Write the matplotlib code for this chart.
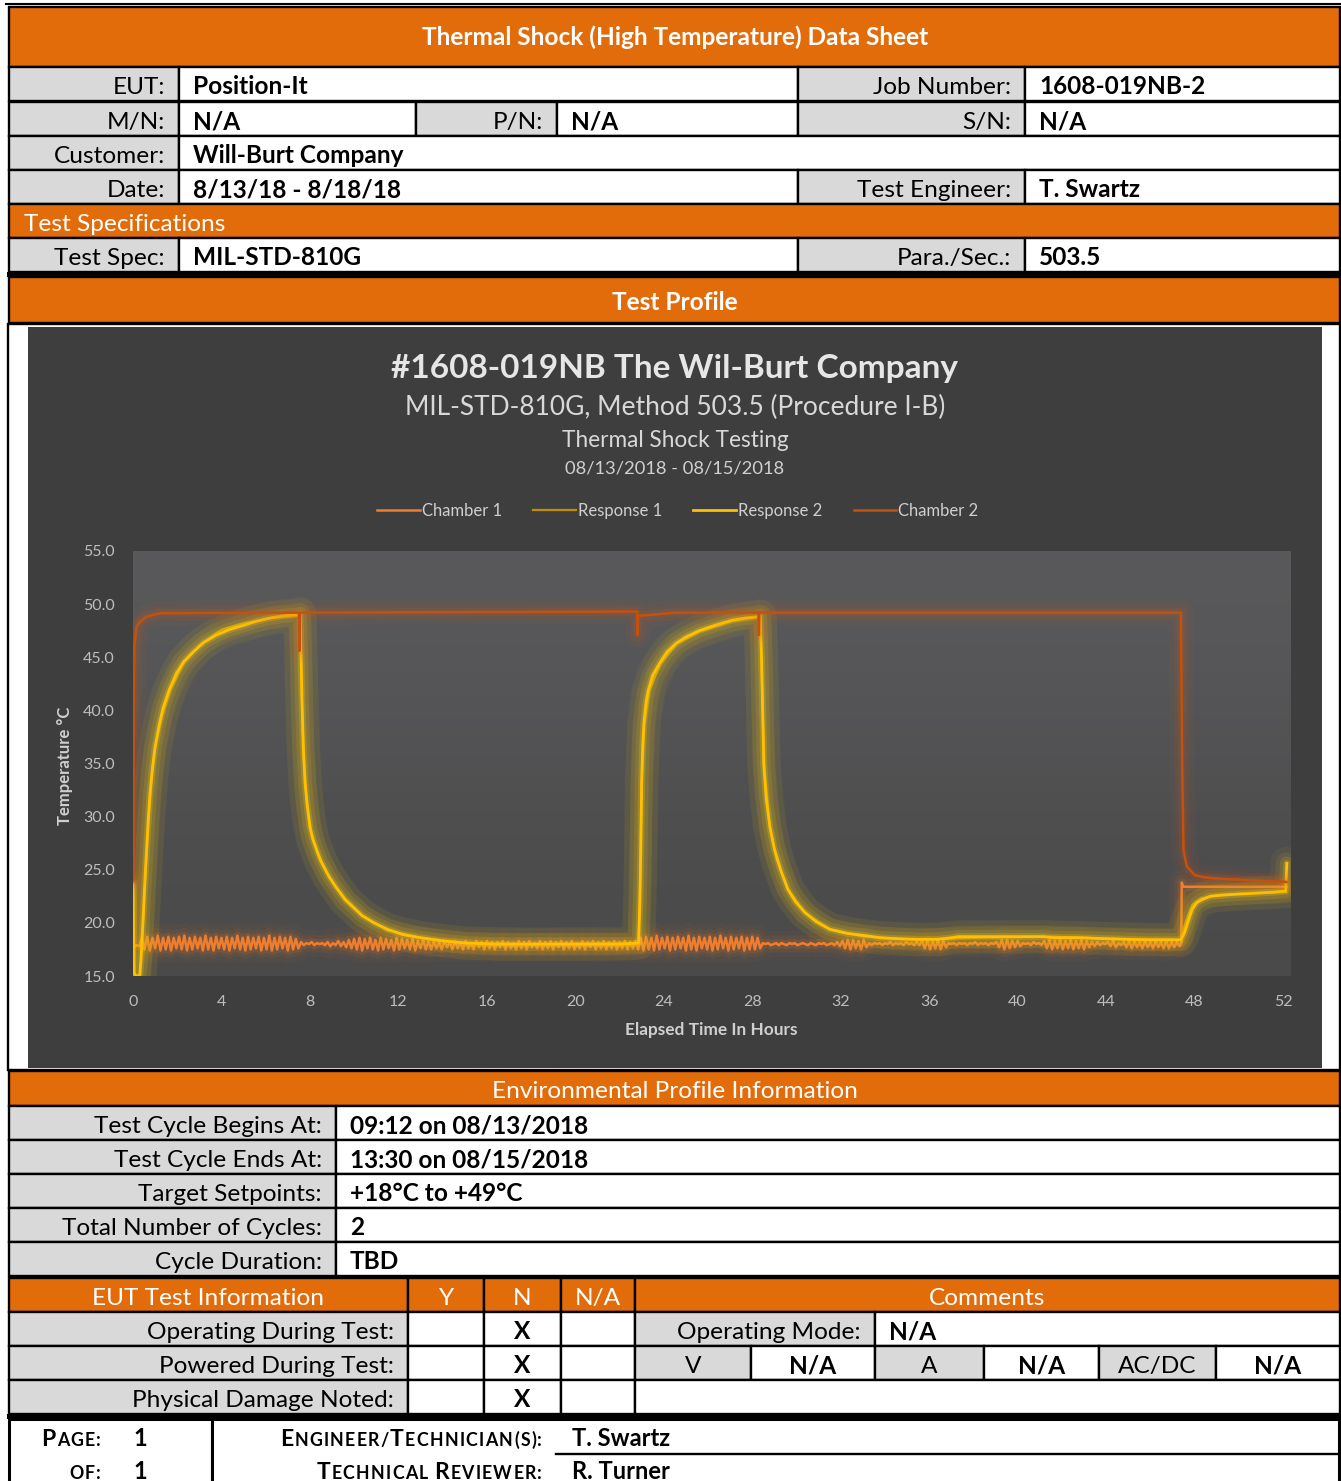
import numpy as np
import matplotlib
matplotlib.use("Agg")
import matplotlib.pyplot as plt
from matplotlib.patches import Rectangle
from matplotlib.colors import LinearSegmentedColormap

# ======================= DATA =======================
series_names = ["Chamber 1", "Response 1", "Response 2", "Chamber 2"]
x_ticks = [0, 4, 8, 12, 16, 20, 24, 28, 32, 36, 40, 44, 48, 52]
x_tick_labels = [str(v) for v in x_ticks]
y_ticks = [15.0, 20.0, 25.0, 30.0, 35.0, 40.0, 45.0, 50.0, 55.0]
y_tick_labels = ["%.1f" % v for v in y_ticks]

chart_title = "#1608-019NB The Wil-Burt Company"
chart_sub1 = "MIL-STD-810G, Method 503.5 (Procedure I-B)"
chart_sub2 = "Thermal Shock Testing"
chart_sub3 = "08/13/2018 - 08/15/2018"
x_label = "Elapsed Time In Hours"
y_label = "Temperature °C"

# Chamber 2 (hot chamber)
ch2_time = [0.00, 0.015, 0.03, 0.06, 0.15, 0.30, 0.60, 1.20, 7.50, 7.52, 7.54,
            22.80, 22.82, 22.84, 23.50, 24.50, 28.28, 28.30, 28.32, 47.38, 47.44,
            47.50, 47.65, 48.00, 48.40, 48.90, 50.50, 52.15]
ch2_temp = [24.0, 24.0, 40.0, 46.0, 47.8, 48.3, 48.8, 49.15, 49.2, 45.6, 49.2,
            49.3, 47.1, 48.9, 49.0, 49.2, 49.2, 47.1, 49.2, 49.2, 35.0,
            26.8, 25.3, 24.5, 24.3, 24.2, 24.0, 23.85]

# Chamber 1 (cold chamber) - start, logged cold-dwell samples, end
ch1_start_time = [0.00, 0.03, 0.15, 0.30]
ch1_start_temp = [24.0, 17.7, 17.9, 17.8]
ch1_log_first_hour = 0.40
ch1_log_interval_h = 0.12
ch1_log_temp = [
    18.5, 17.5, 18.7, 17.4, 18.6, 17.6, 18.8, 17.4, 18.6, 17.5,
    18.7, 17.4, 18.6, 17.6, 18.7, 17.5, 18.8, 17.4, 18.6, 17.5,
    18.7, 17.6, 18.6, 17.4, 18.8, 17.5, 18.6, 17.4, 18.7, 17.6,
    18.6, 17.5, 18.7, 17.4, 18.6, 17.6, 18.8, 17.5, 18.6, 17.4,
    18.7, 17.5, 18.6, 17.6, 18.7, 17.4, 18.6, 17.5, 18.8, 17.4,
    18.6, 17.5, 18.7, 17.6, 18.6, 17.4, 18.7, 17.5, 18.5, 17.6,
    18.2, 17.9, 18.1, 18.0, 18.2, 17.9, 18.1, 18.0, 18.1, 17.9,
    18.2, 17.8, 18.1, 17.9, 18.3, 17.8, 18.2, 17.7, 18.4, 17.6,
    18.5, 17.5, 18.6, 17.4, 18.5, 17.6, 18.6, 17.5, 18.4, 17.4,
    18.6, 17.5, 18.5, 17.6, 18.4, 17.4, 18.6, 17.5, 18.5, 17.6,
    18.4, 17.5, 18.5, 17.4, 18.3, 17.6, 18.4, 17.5, 18.3, 17.5,
    18.3, 17.6, 18.2, 17.5, 18.3, 17.7, 18.2, 17.5, 18.3, 17.6,
    18.2, 17.5, 18.3, 17.6, 18.1, 17.5, 18.3, 17.7, 18.2, 17.5,
    18.3, 17.6, 18.2, 17.5, 18.2, 17.7, 18.3, 17.5, 18.2, 17.6,
    18.1, 17.5, 18.3, 17.6, 18.2, 17.5, 18.3, 17.7, 18.1, 17.6,
    18.3, 17.5, 18.2, 17.6, 18.3, 17.5, 18.2, 17.7, 18.3, 17.5,
    18.2, 17.6, 18.3, 17.5, 18.1, 17.6, 18.3, 17.5, 18.2, 17.7,
    18.3, 17.5, 18.2, 17.6, 18.3, 17.5, 18.2, 17.6, 18.3, 17.5,
    18.2, 17.6, 18.3, 17.5, 18.2, 17.6, 18.3, 17.5, 18.6, 17.4,
    18.7, 17.5, 18.6, 17.4, 18.8, 17.5, 18.6, 17.6, 18.7, 17.4,
    18.6, 17.5, 18.7, 17.6, 18.6, 17.4, 18.8, 17.5, 18.6, 17.4,
    18.7, 17.6, 18.6, 17.5, 18.7, 17.4, 18.6, 17.5, 18.8, 17.6,
    18.6, 17.4, 18.7, 17.5, 18.6, 17.6, 18.7, 17.4, 18.6, 17.5,
    18.7, 17.5, 18.6, 17.6, 18.1, 18.0, 18.1, 17.9, 18.0, 18.1,
    17.9, 18.1, 18.0, 17.9, 18.1, 18.0, 18.1, 17.9, 18.0, 18.1,
    18.0, 17.9, 18.1, 18.0, 17.9, 18.1, 18.0, 18.1, 17.9, 18.0,
    18.1, 17.9, 18.2, 17.8, 18.3, 17.6, 18.4, 17.5, 18.4, 17.6,
    18.3, 17.5, 18.4, 17.7, 18.1, 17.9, 18.1, 18.0, 18.1, 17.9,
    18.1, 18.0, 18.2, 17.9, 18.1, 18.0, 18.1, 17.9, 18.2, 18.0,
    18.1, 17.9, 18.2, 17.9, 18.3, 17.6, 18.4, 17.5, 18.3, 17.6,
    18.4, 17.5, 18.3, 17.7, 18.1, 18.0, 18.1, 17.9, 18.1, 18.0,
    18.1, 17.9, 18.1, 18.0, 18.2, 17.9, 18.1, 18.0, 18.1, 17.9,
    18.1, 18.0, 18.2, 17.7, 18.4, 17.5, 18.4, 17.6, 18.3, 17.7,
    18.3, 17.8, 18.1, 18.0, 18.1, 17.9, 18.2, 18.0, 18.1, 17.9,
    18.3, 17.6, 18.4, 17.5, 18.3, 17.6, 18.4, 17.5, 18.3, 17.6,
    18.4, 17.5, 18.3, 17.6, 18.4, 17.5, 18.3, 17.7, 18.2, 17.8,
    18.2, 17.9, 18.1, 18.0, 18.2, 17.8, 18.3, 17.7, 18.1, 17.9,
    18.2, 17.7, 18.3, 17.6, 18.3, 17.7, 18.2, 17.6, 18.3, 17.7,
    18.2, 17.6, 18.3, 17.7, 18.2, 17.6, 18.3, 17.6, 18.2, 17.7,
    18.2, 17.8,
]
ch1_end_time = [47.40, 47.42, 47.50, 52.15]
ch1_end_temp = [18.1, 23.8, 23.4, 23.4]

# Response 2 (EUT thermocouple)
resp2_time = [0.00, 0.05, 0.10, 0.30, 0.36, 0.42, 0.47, 0.55, 0.62, 0.70, 0.77, 0.88,
              1.00, 1.18, 1.37, 1.65, 1.97, 2.30, 2.72, 3.20, 3.78, 4.35, 4.98, 5.60,
              6.20, 6.80, 7.39, 7.55,
              7.60, 7.64, 7.70, 7.78, 7.88, 8.00, 8.15, 8.30, 8.50, 8.85, 9.20, 9.60,
              10.00, 10.35, 10.90, 11.50, 12.20, 13.00, 14.00, 15.06, 16.50, 17.90,
              20.00, 22.00, 22.86,
              22.92, 22.96, 23.00, 23.05, 23.10, 23.20, 23.30, 23.50, 23.80, 24.15,
              24.55, 25.00, 25.60, 26.30, 27.10, 27.70, 28.20, 28.36,
              28.42, 28.46, 28.52, 28.63, 28.80, 29.00, 29.30, 29.60, 29.95, 30.37,
              30.90, 31.50, 32.30, 33.10, 33.80, 34.60, 35.50, 36.40, 37.00, 37.30,
              39.00, 41.20, 41.60, 42.80, 44.10, 45.80, 47.38,
              47.55, 47.75, 47.90, 48.10, 48.35, 48.70, 49.20, 49.90, 50.80, 51.60,
              52.12, 52.15, 52.17]
resp2_temp = [23.5, 15.3, 15.0, 15.0, 16.5, 19.0, 21.0, 24.5, 27.2, 30.0, 32.2, 34.6,
              36.6, 38.6, 40.3, 42.0, 43.5, 44.6, 45.5, 46.4, 47.1, 47.6, 48.0, 48.4,
              48.7, 48.9, 49.0, 49.1,
              45.0, 41.0, 36.5, 33.2, 31.0, 29.0, 27.8, 26.9, 25.8, 24.4, 23.3, 22.2,
              21.4, 20.7, 20.0, 19.4, 18.9, 18.6, 18.3, 18.1, 18.0, 18.0,
              18.0, 18.0, 18.1,
              22.0, 27.0, 33.4, 36.8, 38.8, 40.8, 41.9, 43.3, 44.4, 45.5,
              46.3, 46.9, 47.5, 48.0, 48.5, 48.7, 48.8, 48.9,
              45.0, 41.1, 35.0, 31.7, 29.0, 26.95, 24.9, 23.2, 22.0, 21.0,
              20.1, 19.4, 19.0, 18.8, 18.6, 18.5, 18.45, 18.45, 18.6, 18.7,
              18.7, 18.7, 18.6, 18.6, 18.5, 18.4, 18.4,
              19.1, 20.4, 21.3, 21.9, 22.2, 22.5, 22.6, 22.7, 22.8, 22.9,
              23.0, 24.5, 25.6]

# Response 1 (second EUT thermocouple, nearly coincident)
resp1_time = [0.00, 0.06, 0.12, 0.32, 0.40, 0.48, 0.58, 0.70, 0.85, 1.00, 1.30,
              1.70, 2.30, 3.00, 4.00, 5.00, 6.30, 7.40, 7.55,
              7.62, 7.72, 7.85, 8.10, 8.40, 8.90, 9.60, 10.40, 11.50, 13.00, 15.00,
              18.00, 22.86, 22.93, 23.00, 23.12, 23.35, 23.85, 24.60, 25.60, 27.10,
              28.36, 28.45, 28.55, 28.80, 29.10, 29.60, 30.40, 31.50, 33.10, 35.50,
              38.00, 41.50, 44.50, 47.38, 47.60, 47.90, 48.30, 49.00, 50.50, 52.15]
resp1_temp = [23.4, 15.4, 15.1, 15.1, 17.8, 20.8, 25.0, 29.6, 33.6, 36.4, 39.4,
              42.0, 44.5, 46.1, 47.6, 48.2, 48.7, 48.9, 49.0,
              42.0, 35.5, 31.6, 28.0, 26.2, 24.2, 22.1, 20.6, 19.3, 18.6, 18.1,
              18.0, 18.1, 24.0, 33.0, 38.6, 41.9, 44.4, 46.3, 47.4, 48.4,
              48.8, 41.5, 34.5, 29.0, 26.0, 23.2, 20.9, 19.4, 18.7, 18.4,
              18.6, 18.7, 18.5, 18.4, 20.0, 21.7, 22.3, 22.6, 22.8, 22.9]

# Table texts
sheet_title = "Thermal Shock (High Temperature) Data Sheet"
env_labels = ["Test Cycle Begins At:", "Test Cycle Ends At:", "Target Setpoints:",
              "Total Number of Cycles:", "Cycle Duration:"]
env_values = ["09:12 on 08/13/2018", "13:30 on 08/15/2018", "+18°C to +49°C", "2", "TBD"]
eut_labels = ["Operating During Test:", "Powered During Test:", "Physical Damage Noted:"]
eut_marks = ["N", "N", "N"]

# ======================= STYLE / LAYOUT =======================
W, H = 1341, 1481
FONT = "Lato"
plt.rcParams["font.family"] = [FONT, "DejaVu Sans"]
ORANGE = "#E36C0A"
GRAY = "#D9D9D9"
C_CH1 = "#F07D2E"
C_R1 = "#BF9000"
C_R2 = "#FFC000"
C_CH2 = "#C4520C"

fig = plt.figure(figsize=(W / 100, H / 100), dpi=100)
bg = fig.add_axes([0, 0, 1, 1])
bg.set_xlim(0, W)
bg.set_ylim(H, 0)
bg.axis("off")
renderer = fig.canvas.get_renderer()

LW = 1.7
FS = 17.6


def cell(x0, y0, x1, y1, fc="white", lw=LW, z=1):
    bg.add_patch(Rectangle((x0, y0), x1 - x0, y1 - y0, facecolor=fc,
                           edgecolor="black", linewidth=lw, zorder=z))


def txt(x, y, s, ha="left", bold=False, color="black", size=FS, **kw):
    bg.text(x, y, s, ha=ha, va="baseline", fontsize=size, color=color,
            fontweight="bold" if bold else "normal", zorder=10, **kw)


def label_cell(x0, x1, y0, s, h=34):
    cell(x0, y0, x1, y0 + h, GRAY)
    txt(x1 - 14, y0 + 27, s, ha="right")


def value_cell(x0, x1, y0, s, h=34, pad=14, center=False):
    cell(x0, y0, x1, y0 + h, "white")
    if center:
        txt((x0 + x1) / 2, y0 + 27, s, ha="center", bold=True)
    else:
        txt(x0 + pad, y0 + 27, s, bold=True)


# ---- top header table ----
bg.plot([6, 1341], [4, 4], color="black", lw=1.5)
cell(9, 7, 1340, 67, ORANGE)
txt(675, 45, sheet_title, ha="center", bold=True, color="white")

y = 67
label_cell(9, 179, y, "EUT:")
value_cell(179, 798, y, "Position-It")
label_cell(798, 1025, y, "Job Number:")
value_cell(1025, 1340, y, "1608-019NB-2")
y = 102
label_cell(9, 179, y, "M/N:")
value_cell(179, 416, y, "N/A")
label_cell(416, 557, y, "P/N:")
value_cell(557, 798, y, "N/A")
label_cell(798, 1025, y, "S/N:")
value_cell(1025, 1340, y, "N/A")
y = 136
label_cell(9, 179, y, "Customer:")
value_cell(179, 1340, y, "Will-Burt Company")
y = 170
label_cell(9, 179, y, "Date:")
value_cell(179, 798, y, "8/13/18 - 8/18/18")
label_cell(798, 1025, y, "Test Engineer:")
value_cell(1025, 1340, y, "T. Swartz")
y = 204
cell(9, y, 1340, y + 34, ORANGE)
txt(24, y + 27, "Test Specifications", color="white")
y = 238
label_cell(9, 179, y, "Test Spec:")
value_cell(179, 798, y, "MIL-STD-810G")
label_cell(798, 1025, y, "Para./Sec.:")
value_cell(1025, 1340, y, "503.5")

bg.add_patch(Rectangle((7, 272), 1334, 5, facecolor="black", edgecolor="none", zorder=3))
cell(9, 277, 1340, 323, ORANGE)
txt(675, 310, "Test Profile", ha="center", bold=True, color="white")

# ---- chart frame ----
cell(8, 324, 1340, 1070, "white")
bg.add_patch(Rectangle((28, 327), 1294, 741, facecolor="#3E3E3E", edgecolor="none", zorder=2))

TXT_C = "#E6E6E6"
txt(675, 378, chart_title, ha="center", bold=True, color=TXT_C, size=24)
txt(675, 415, chart_sub1, ha="center", color="#D8D8D8", size=19)
txt(675, 447, chart_sub2, ha="center", color="#D8D8D8", size=16.3)
txt(675, 473, chart_sub3, ha="center", color="#D0D0D0", size=13.2)
bg.text(65, 766, y_label, rotation=90, ha="center", va="center", fontsize=12,
        fontweight="bold", color="#D0D0D0", zorder=10)
bg.text(711, 1030, x_label, ha="center", va="center", fontsize=12.4,
        fontweight="bold", color="#CFCFCF", zorder=10)

# ---- plot area ----
PX_L, PX_R, PX_T, PX_B = 133, 1291, 551, 976
cax = fig.add_axes([PX_L / W, 1 - PX_B / H, (PX_R - PX_L) / W, (PX_B - PX_T) / H])
XMAX = 52.36
cax.set_xlim(0, XMAX)
cax.set_ylim(15, 55)
cax.set_facecolor("none")
grad_cmap = LinearSegmentedColormap.from_list("pa", ["#4A4A4B", "#59595B"])
cax.imshow([[0.0], [1.0]], extent=[0, XMAX, 15, 55], aspect="auto", cmap=grad_cmap,
           origin="lower", interpolation="bicubic", zorder=0)
for s in cax.spines.values():
    s.set_visible(False)
cax.set_xticks(x_ticks)
cax.set_xticklabels(x_tick_labels)
cax.set_yticks(y_ticks)
cax.set_yticklabels(y_tick_labels)
cax.tick_params(length=0, colors="#BDBDBD", labelsize=11.5)
cax.tick_params(axis="x", pad=14)
cax.tick_params(axis="y", pad=13)


def glow_line(x, yv, color, glow, lw, label, z, layers):
    for w, a in layers:
        cax.plot(x, yv, color=glow, lw=w, alpha=a, solid_joinstyle="round",
                 solid_capstyle="round", zorder=z)
    ln, = cax.plot(x, yv, color=color, lw=lw, label=label, zorder=z + 0.5,
                   solid_joinstyle="round")
    return ln


ch1_log_time = ch1_log_first_hour + ch1_log_interval_h * np.arange(len(ch1_log_temp))
ch1_time = np.concatenate([ch1_start_time, ch1_log_time, ch1_end_time])
ch1_temp = np.concatenate([ch1_start_temp, ch1_log_temp, ch1_end_temp])

GLOW_Y = [(24, 0.05), (16, 0.08), (10, 0.12), (5, 0.22)]
GLOW_O = [(18, 0.05), (11, 0.08), (6, 0.14)]
h1 = glow_line(ch1_time, ch1_temp, C_CH1, "#EE7A22", 1.8, series_names[0], 2, GLOW_O)
h2 = glow_line(resp1_time, resp1_temp, C_R1, "#D8B000", 1.6, series_names[1], 3, GLOW_Y[:2])
h3 = glow_line(resp2_time, resp2_temp, C_R2, "#FFD21A", 2.0, series_names[2], 4, GLOW_Y)
h4 = glow_line(ch2_time, ch2_temp, C_CH2, "#D0581A", 1.8, series_names[3], 5, GLOW_O)

bg.legend([h1, h2, h3, h4], series_names, loc="center",
          bbox_to_anchor=(678 / W, 1 - 511 / H), bbox_transform=fig.transFigure,
          ncol=4, frameon=False, fontsize=12, labelcolor="#CFCFCF",
          handlelength=2.55, handletextpad=0.15, columnspacing=1.85)

# ---- environmental profile ----
cell(9, 1071, 1340, 1106, ORANGE)
txt(675, 1098, "Environmental Profile Information", ha="center", color="white")
for k, (lab, val) in enumerate(zip(env_labels, env_values)):
    y0 = 1106 + 34 * k
    label_cell(9, 336, y0, lab)
    value_cell(336, 1340, y0, val)

# ---- EUT test information ----
y0 = 1278
for (a, b, s) in [(9, 408, "EUT Test Information"), (408, 484, "Y"), (484, 561, "N"),
                  (561, 635, "N/A"), (635, 1340, "Comments")]:
    cell(a, y0, b, y0 + 34, ORANGE)
    txt((a + b) / 2, y0 + 27, s, ha="center", color="white")
cols = {"Y": (408, 484), "N": (484, 561), "N/A": (561, 635)}
for k, (lab, mark) in enumerate(zip(eut_labels, eut_marks)):
    yy = 1312 + 34 * k
    label_cell(9, 408, yy, lab)
    for key, (a, b) in cols.items():
        value_cell(a, b, yy, "X" if key == mark else "", center=True)
yy = 1312
label_cell(635, 875, yy, "Operating Mode:")
value_cell(875, 1340, yy, "N/A")
yy = 1346
for (a, b, s, lab) in [(635, 751, "V", True), (751, 875, "N/A", False),
                       (875, 984, "A", True), (984, 1099, "N/A", False),
                       (1099, 1216, "AC/DC", True), (1216, 1340, "N/A", False)]:
    if lab:
        cell(a, yy, b, yy + 34, GRAY)
        txt((a + b) / 2, yy + 27, s, ha="center")
    else:
        value_cell(a, b, yy, s, center=True)
value_cell(635, 1340, 1380, "")

bg.add_patch(Rectangle((7, 1414), 1334, 5, facecolor="black", edgecolor="none", zorder=3))

# ---- footer ----
cell(9, 1419, 212, 1495, "white", lw=2.2)
cell(212, 1419, 1339, 1495, "white", lw=2.2)
bg.plot([556, 1339], [1454, 1454], color="black", lw=1.7, zorder=4)


def smallcaps(x_right, y_base, parts, big=16.5, small=12.8, track=1.3):
    """parts: list of (text, is_big); drawn char by char with tracking."""
    objs = []
    for s, isbig in parts:
        for ch in s:
            if ch == " ":
                objs.append((None, 5.0))
                continue
            t = bg.text(0, y_base, ch, fontsize=big if isbig else small,
                        fontweight="bold", ha="left", va="baseline",
                        color="black", zorder=10)
            objs.append((t, None))
    widths = []
    for t, w in objs:
        if t is None:
            widths.append(w)
        else:
            widths.append(t.get_window_extent(renderer).width + track)
    x = x_right - sum(widths) + track
    for (t, _), w in zip(objs, widths):
        if t is not None:
            t.set_x(x)
        x += w


smallcaps(101, 1446, [("P", True), ("AGE:", False)])
smallcaps(101, 1479, [("OF:", False)])
txt(133, 1446, "1", bold=True, size=17)
txt(133, 1479, "1", bold=True, size=17)
smallcaps(542, 1446, [("E", True), ("NGINEER/", False), ("T", True),
                      ("ECHNICIAN(S):", False)])
smallcaps(542, 1479, [("T", True), ("ECHNICAL ", False), ("R", True),
                      ("EVIEWER:", False)])
txt(572, 1446, "T. Swartz", bold=True, size=17)
txt(572, 1479, "R. Turner", bold=True, size=17)

fig.savefig("out.png", dpi=100)
